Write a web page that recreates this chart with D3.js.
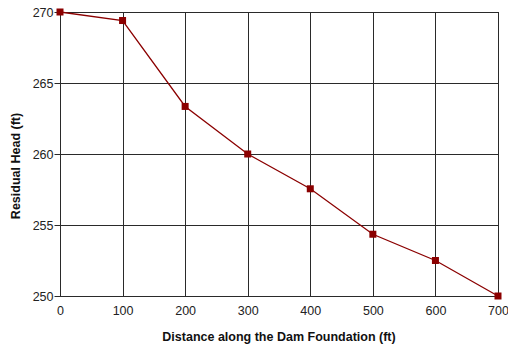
<!DOCTYPE html>
<html>
<head>
<meta charset="utf-8">
<script src="https://cdn.jsdelivr.net/npm/d3@7"></script>
<style>
  body { margin: 0; background: #fff; }
  text { font-family: "Liberation Sans", Arial, sans-serif; }
</style>
</head>
<body>
<svg id="chart" width="508" height="347"></svg>
<script>
// data
var distance = [0, 100, 200, 300, 400, 500, 600, 700];
var head = [270, 269.4, 263.35, 260, 257.55, 254.35, 252.5, 250];
var xTicks = [0, 100, 200, 300, 400, 500, 600, 700];
var yTicks = [250, 255, 260, 265, 270];

var svg = d3.select("#chart"),
    plotLeft = 60, plotRight = 498, plotTop = 12, plotBottom = 296;

var x = d3.scaleLinear().domain([0, 700]).range([plotLeft, plotRight]);
var y = d3.scaleLinear().domain([250, 270]).range([plotBottom, plotTop]);

// grid
svg.append("g").selectAll("line")
   .data(xTicks)
   .enter().append("line")
   .attr("x1", function(d) { return Math.round(x(d)) + 0.5; })
   .attr("x2", function(d) { return Math.round(x(d)) + 0.5; })
   .attr("y1", plotTop).attr("y2", plotBottom)
   .attr("stroke", "#2a2a2a").attr("stroke-width", 1);

svg.append("g").selectAll("line")
   .data(yTicks)
   .enter().append("line")
   .attr("y1", function(d) { return Math.round(y(d)) + 0.5; })
   .attr("y2", function(d) { return Math.round(y(d)) + 0.5; })
   .attr("x1", plotLeft).attr("x2", plotRight)
   .attr("stroke", "#2a2a2a").attr("stroke-width", 1);

// axes
var xAxis = d3.axisBottom(x).tickValues(xTicks).tickSize(0).tickPadding(10);
var yAxis = d3.axisLeft(y).tickValues(yTicks).tickSize(6).tickPadding(1);

svg.append("g")
   .attr("transform", "translate(0," + (plotBottom + 0.5) + ")")
   .call(xAxis)
   .call(function(g) { g.select(".domain").remove(); })
   .selectAll("text")
   .attr("font-size", 12.5).attr("fill", "#222")
   .style("font-family", "Liberation Sans, Arial, sans-serif");

svg.append("g")
   .attr("transform", "translate(" + (plotLeft + 0.5) + ",0)")
   .call(yAxis)
   .call(function(g) {
      g.select(".domain").remove();
      g.selectAll("line").attr("stroke", "#2a2a2a");
      g.selectAll(".tick").attr("transform", function(d) { return "translate(0," + (Math.round(y(d)) + 0.5) + ")"; });
   })
   .selectAll("text")
   .attr("font-size", 12.5).attr("fill", "#222")
   .style("font-family", "Liberation Sans, Arial, sans-serif");

// series
var pts = distance.map(function(d, i) { return [d, head[i]]; });

svg.append("path")
   .datum(pts)
   .attr("fill", "none")
   .attr("stroke", "#8b0000")
   .attr("stroke-width", 1.3)
   .attr("d", d3.line().x(function(d) { return x(d[0]); }).y(function(d) { return y(d[1]); }));

svg.append("g").selectAll("rect")
   .data(pts)
   .enter().append("rect")
   .attr("x", function(d) { return x(d[0]) - 3.5; })
   .attr("y", function(d) { return y(d[1]) - 3.5; })
   .attr("width", 7).attr("height", 7)
   .attr("fill", "#8b0000");

// titles
svg.append("text")
   .attr("x", 279).attr("y", 341)
   .attr("text-anchor", "middle")
   .attr("font-size", 12.5).attr("font-weight", "bold")
   .attr("fill", "#111")
   .text("Distance along the Dam Foundation (ft)");

svg.append("text")
   .attr("transform", "translate(20,166) rotate(-90)")
   .attr("text-anchor", "middle")
   .attr("font-size", 12.5).attr("font-weight", "bold")
   .attr("fill", "#111")
   .text("Residual Head (ft)");
</script>
</body>
</html>
